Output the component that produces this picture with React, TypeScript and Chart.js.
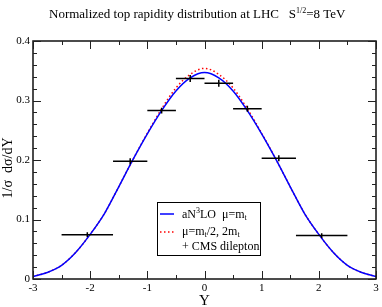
import React, { useEffect, useRef } from "react";
import { Chart, registerables } from "chart.js";

Chart.register(...registerables);

const rapidity = [-3, -2.75, -2.5, -2.25, -2, -1.75, -1.5, -1.25, -1, -0.75, -0.5, -0.25, 0, 0.25, 0.5, 0.75, 1, 1.25, 1.5, 1.75, 2, 2.25, 2.5, 2.75, 3];
const aN3LO = [0.004, 0.011, 0.023, 0.045, 0.075, 0.110, 0.155, 0.201, 0.244, 0.283, 0.316, 0.338, 0.347, 0.338, 0.316, 0.283, 0.244, 0.201, 0.155, 0.110, 0.075, 0.045, 0.023, 0.011, 0.004];
const scaleVar = [0.004, 0.011, 0.023, 0.045, 0.075, 0.110, 0.155, 0.201, 0.245, 0.286, 0.321, 0.344, 0.354, 0.344, 0.321, 0.286, 0.245, 0.201, 0.155, 0.110, 0.075, 0.045, 0.023, 0.011, 0.004];

const cmsY = [-2.05, -1.3, -0.75, -0.25, 0.25, 0.75, 1.3, 2.05];
const cmsVal = [0.0745, 0.198, 0.283, 0.337, 0.329, 0.286, 0.203, 0.073];
const cmsErr = [0.004, 0.005, 0.005, 0.006, 0.006, 0.005, 0.005, 0.004];
const cmsLow = [-2.5, -1.6, -1.0, -0.5, 0, 0.5, 1.0, 1.6];
const cmsHigh = [-1.6, -1.0, -0.5, 0, 0.5, 1.0, 1.6, 2.5];

const xMin = -3, xMax = 3, xMajor = 1, xMinor = 0.5;
const yMin = 0, yMax = 0.4, yMajor = 0.1, yMinor = 0.02;

const SERIF = '"Liberation Serif", "DejaVu Serif", serif';

type Seg = { t: string; size: number; dy?: number };

function drawSegs(ctx: CanvasRenderingContext2D, segs: Seg[], x: number, y: number) {
  let cx = x;
  for (const s of segs) {
    ctx.font = `${s.size}px ${SERIF}`;
    ctx.fillText(s.t, cx, y + (s.dy || 0));
    cx += ctx.measureText(s.t).width;
  }
  return cx;
}

const overlay = {
  id: "overlay",
  afterDatasetsDraw(chart: any) {
    const { ctx, chartArea: a, scales } = chart;
    const x = scales.x, y = scales.y;
    ctx.save();
    // CMS error bars
    ctx.strokeStyle = "#000";
    ctx.lineWidth = 1.5;
    for (let i = 0; i < cmsY.length; i++) {
      const py = y.getPixelForValue(cmsVal[i]);
      const px = x.getPixelForValue(cmsY[i]);
      ctx.beginPath();
      ctx.moveTo(x.getPixelForValue(cmsLow[i]), py);
      ctx.lineTo(x.getPixelForValue(cmsHigh[i]), py);
      ctx.moveTo(px, y.getPixelForValue(cmsVal[i] - cmsErr[i]));
      ctx.lineTo(px, y.getPixelForValue(cmsVal[i] + cmsErr[i]));
      ctx.stroke();
    }
    // frame
    ctx.lineWidth = 1.5;
    ctx.strokeStyle = "#111";
    ctx.strokeRect(a.left, a.top, a.right - a.left, a.bottom - a.top);
    // ticks (inward, all four sides)
    ctx.lineWidth = 1;
    ctx.strokeStyle = "#222";
    ctx.beginPath();
    const nx = Math.round((xMax - xMin) / xMinor);
    for (let k = 0; k <= nx; k++) {
      const v = xMin + k * xMinor;
      const major = Math.abs(v / xMajor - Math.round(v / xMajor)) < 1e-6;
      const len = major ? 8 : 4;
      const px = Math.round(x.getPixelForValue(v)) + 0.5;
      ctx.moveTo(px, a.bottom);
      ctx.lineTo(px, a.bottom - len);
      ctx.moveTo(px, a.top);
      ctx.lineTo(px, a.top + len);
    }
    const ny = Math.round((yMax - yMin) / yMinor);
    for (let k = 0; k <= ny; k++) {
      const v = yMin + k * yMinor;
      const major = Math.abs(v / yMajor - Math.round(v / yMajor)) < 1e-6;
      const len = major ? 8 : 4;
      const py = Math.round(y.getPixelForValue(v)) + 0.5;
      ctx.moveTo(a.left, py);
      ctx.lineTo(a.left + len, py);
      ctx.moveTo(a.right, py);
      ctx.lineTo(a.right - len, py);
    }
    ctx.stroke();

    ctx.fillStyle = "#000";
    ctx.textBaseline = "alphabetic";
    ctx.textAlign = "left";
    // title
    drawSegs(ctx, [
      { t: "Normalized top rapidity distribution at LHC   S", size: 13 },
      { t: "1/2", size: 8, dy: -5 },
      { t: "=8 TeV", size: 13 },
    ], 49, 18);

    // x axis title
    ctx.font = `15px ${SERIF}`;
    ctx.textAlign = "center";
    ctx.fillText("Y", (a.left + a.right) / 2, 305);
    // y axis title
    ctx.font = `14px ${SERIF}`;
    ctx.save();
    ctx.translate(12, 168);
    ctx.rotate(-Math.PI / 2);
    ctx.fillText("1/\u03c3  d\u03c3/dY", 0, 0);
    ctx.restore();

    // legend
    ctx.textAlign = "left";
    ctx.fillStyle = "#fff";
    ctx.fillRect(157, 202, 103, 53);
    ctx.strokeStyle = "#000";
    ctx.lineWidth = 1;
    ctx.strokeRect(157.5, 202.5, 103, 53);
    ctx.beginPath();
    ctx.strokeStyle = "#0000ff";
    ctx.lineWidth = 1.5;
    ctx.moveTo(160, 214);
    ctx.lineTo(174, 214);
    ctx.stroke();
    ctx.beginPath();
    ctx.strokeStyle = "#ff0000";
    ctx.setLineDash([1.5, 2.5]);
    ctx.moveTo(160, 232);
    ctx.lineTo(174, 232);
    ctx.stroke();
    ctx.setLineDash([]);
    ctx.fillStyle = "#000";
    drawSegs(ctx, [
      { t: "aN", size: 12 },
      { t: "3", size: 8, dy: -5 },
      { t: "LO  \u03bc=m", size: 12 },
      { t: "t", size: 8, dy: 2 },
    ], 182, 218);
    drawSegs(ctx, [
      { t: "\u03bc=m", size: 12 },
      { t: "t", size: 8, dy: 2 },
      { t: "/2, 2m", size: 12 },
      { t: "t", size: 8, dy: 2 },
    ], 182, 235);
    drawSegs(ctx, [{ t: "+ CMS dilepton", size: 12 }], 182, 250);
    ctx.restore();
  },
};

export default function App() {
  const ref = useRef<HTMLCanvasElement | null>(null);
  useEffect(() => {
    if (!ref.current) return;
    const tickFont = { family: SERIF, size: 11 };
    const chart = new Chart(ref.current, {
      type: "line",
      data: {
        datasets: [
          {
            label: "aN3LO mu=mt",
            data: rapidity.map((r, i) => ({ x: r, y: aN3LO[i] })),
            borderColor: "#0000ff",
            borderWidth: 1.5,
            pointRadius: 0,
            cubicInterpolationMode: "monotone",
          },
          {
            label: "mu=mt/2, 2mt",
            data: rapidity.map((r, i) => ({ x: r, y: scaleVar[i] })),
            borderColor: "#ff0000",
            borderWidth: 1.5,
            borderDash: [1.5, 2.5],
            pointRadius: 0,
            cubicInterpolationMode: "monotone",
          },
          {
            label: "CMS dilepton",
            data: cmsY.map((c, i) => ({ x: c, y: cmsVal[i] })),
            showLine: false,
            pointRadius: 0,
          },
        ],
      },
      options: {
        animation: false,
        responsive: false,
        events: [],
        layout: { padding: { top: 41, right: 6, left: 0, bottom: 0 } },
        plugins: { legend: { display: false }, tooltip: { enabled: false }, title: { display: false } },
        scales: {
          x: {
            type: "linear",
            min: xMin,
            max: xMax,
            afterFit: (s: any) => { s.height = 28; },
            grid: { display: false, drawTicks: false },
            border: { display: false },
            ticks: { stepSize: xMajor, font: tickFont, color: "#000", padding: 3, maxRotation: 0, autoSkip: false, callback: (v: any) => String(v) },
          },
          y: {
            type: "linear",
            min: yMin,
            max: yMax,
            afterFit: (s: any) => { s.width = 33; },
            grid: { display: false, drawTicks: false },
            border: { display: false },
            ticks: { stepSize: yMajor, font: tickFont, color: "#000", padding: 3, autoSkip: false, callback: (v: any) => (v === 0 ? "0" : Number(v).toFixed(1)) },
          },
        },
      },
      plugins: [overlay],
    });
    return () => chart.destroy();
  }, []);
  return (
    <div style={{ position: "fixed", left: 0, top: 0, width: 382, height: 307, background: "#fff" }}>
      <canvas ref={ref} width={382} height={307} style={{ display: "block" }} />
    </div>
  );
}
